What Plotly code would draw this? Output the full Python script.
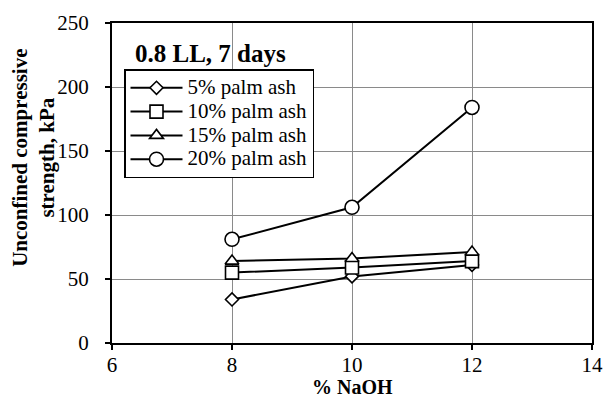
import plotly.graph_objects as go

# % NaOH in the activator
naoh = [8, 10, 12]

# Unconfined compressive strength (kPa) at 0.8 LL, 7 days curing
ucs_5 = [34, 52, 61]
ucs_10 = [55, 59, 64]
ucs_15 = [64, 66, 71]
ucs_20 = [81, 106, 184]

series_names = ["5% palm ash", "10% palm ash", "15% palm ash", "20% palm ash"]
series_values = [ucs_5, ucs_10, ucs_15, ucs_20]
symbols = ["diamond", "square", "triangle-up", "circle"]
sizes = [10, 13, 12, 14]

x_ticks = [6, 8, 10, 12, 14]
y_ticks = [0, 50, 100, 150, 200, 250]

FONT = "Liberation Serif"

fig = go.Figure()
for i, (name, vals, sym, sz) in enumerate(zip(series_names, series_values, symbols, sizes)):
    fig.add_trace(go.Scatter(
        x=naoh, y=vals, mode="lines+markers",
        # larger glyphs inside a compact legend row
        name=f'<span style="font-size:21px">{name}</span>',
        line=dict(color="black", width=2),
        marker=dict(symbol=sym, size=sz, color="white",
                    line=dict(color="black", width=1.6)),
    ))

axis_common = dict(
    showline=True, linecolor="black", linewidth=2, mirror=True,
    showgrid=True, gridcolor="#8a8a8a", gridwidth=1.3,
    ticks="outside", ticklen=5, tickcolor="black", tickwidth=1.5,
    zeroline=False, automargin=False,
    tickfont=dict(family=FONT, size=21, color="black"),
)

fig.update_xaxes(range=[6, 14], tickvals=x_ticks, ticklabelstandoff=-3, **axis_common)
fig.update_yaxes(range=[0, 250], tickvals=y_ticks, ticklabelstandoff=12, **axis_common)

# axis titles
fig.add_annotation(
    x=0.5, y=-0.138, xref="paper", yref="paper", xanchor="center", yanchor="middle",
    text="<b>% NaOH</b>", showarrow=False,
    font=dict(family=FONT, size=20, color="black"),
)
fig.add_annotation(
    x=-0.165, y=0.578, xref="paper", yref="paper", xanchor="center", yanchor="middle",
    text="<b>Unconfined compressive<br>strength, kPa</b>", textangle=-90, showarrow=False,
    font=dict(family=FONT, size=21, color="black"),
)

fig.add_annotation(
    x=0.044, y=0.906, xref="paper", yref="paper", xanchor="left", yanchor="middle",
    text="<b>0.8 LL, 7 days</b>", showarrow=False,
    font=dict(family=FONT, size=25, color="black"),
)

fig.update_layout(
    width=603, height=399,
    margin=dict(l=112, r=11, t=23, b=56),
    paper_bgcolor="white", plot_bgcolor="white",
    font=dict(family=FONT, color="black"),
    showlegend=True,
    legend=dict(
        x=0.025, y=0.855, xanchor="left", yanchor="top",
        bgcolor="white", bordercolor="black", borderwidth=1.5,
        font=dict(family=FONT, size=16, color="black"),
        traceorder="normal", itemwidth=52,
    ),
)

fig.write_html("out.html")
